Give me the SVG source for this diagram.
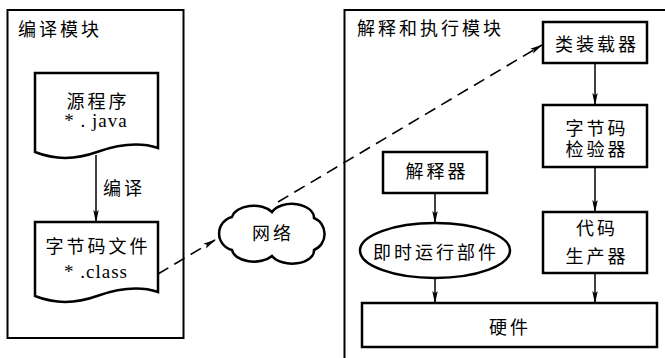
<svg xmlns="http://www.w3.org/2000/svg" width="665" height="358" viewBox="0 0 665 358">
<defs>
<style>
.box{fill:#fff;stroke:#000;stroke-width:2.5}
.frame{fill:none;stroke:#000;stroke-width:2}
.t{font-family:"Liberation Serif","Noto Sans CJK SC",serif;font-size:18px;letter-spacing:3px;fill:#000}
.c{text-anchor:middle}
.lat{font-family:"Liberation Serif",serif;font-size:19px;letter-spacing:1px;fill:#000;text-anchor:middle}
.ar{fill:none;stroke:#000;stroke-width:1.5;marker-end:url(#ah)}
.dash{fill:none;stroke:#000;stroke-width:1.6;stroke-dasharray:12 7;marker-end:url(#ah)}
</style>
<marker id="ah" markerUnits="userSpaceOnUse" viewBox="0 0 13 7" refX="12" refY="3.5" markerWidth="13" markerHeight="7" orient="auto">
<path d="M0,0.8 L13,3.5 L0,6.2 L2.5,3.5 Z" fill="#000"/>
</marker>
</defs>
<g id="compile-module">
<rect class="frame" x="7.5" y="10" width="176" height="328"/>
<text class="t" x="18" y="36">编译模块</text>
</g>
<g id="exec-module">
<path class="frame" d="M665,10 H344.5 V358"/>
<text class="t" x="357" y="35">解释和执行模块</text>
</g>
<g id="connectors">
<line class="ar" x1="96" y1="155" x2="96" y2="222"/>
<line class="dash" x1="158" y1="274" x2="215" y2="240"/>
<line class="dash" x1="278" y1="202" x2="542" y2="45"/>
<line class="ar" x1="595" y1="63" x2="595" y2="105"/>
<line class="ar" x1="595" y1="167" x2="595" y2="212"/>
<line class="ar" x1="595" y1="273" x2="595" y2="303"/>
<line class="ar" x1="435" y1="193" x2="435" y2="223"/>
<line class="ar" x1="435" y1="278" x2="435" y2="303"/>
<text class="t" x="103" y="195">编译</text>
</g>
<g id="source">
<path class="box" d="M35,73 H158 V148 C140,142 120,144 97,152 C75,160 55,160 35,152 Z"/>
<text class="t c" x="98" y="108">源程序</text>
<text class="lat" x="96" y="127">* . java</text>
</g>
<g id="bytecode">
<path class="box" d="M35,222 H158 V292 C140,286 120,288 97,296 C75,304 55,304 35,296 Z"/>
<text class="t c" x="98" y="253">字节码文件</text>
<text class="lat" x="96" y="278">* .class</text>
</g>
<g id="network">
<path class="box" d="M232,250 A17 17 0 0 1 232,217 A22 14 0 0 1 272,212 A22 14 0 0 1 314,218 A16 17 0 0 1 314,250 A22 13 0 0 1 272,256 A22 13 0 0 1 232,250 Z"/>
<text class="t c" x="273" y="240">网络</text>
</g>
<g id="classloader">
<rect class="box" x="543" y="22" width="104" height="41"/>
<text class="t c" x="597" y="51">类装载器</text>
</g>
<g id="verifier">
<rect class="box" x="543" y="105" width="104" height="62"/>
<text class="t c" x="597" y="135">字节码</text>
<text class="t c" x="597" y="156">检验器</text>
</g>
<g id="codegen">
<rect class="box" x="543" y="212" width="104" height="61"/>
<text class="t c" x="597" y="235">代码</text>
<text class="t c" x="597" y="263">生产器</text>
</g>
<g id="interpreter">
<rect class="box" x="383" y="152" width="104" height="41"/>
<text class="t c" x="437" y="178">解释器</text>
</g>
<g id="jit">
<ellipse class="box" cx="435" cy="250.5" rx="75" ry="27.5"/>
<text class="t c" x="436" y="259">即时运行部件</text>
</g>
<g id="hardware">
<rect class="box" x="362" y="303" width="295" height="44"/>
<text class="t c" x="510" y="334">硬件</text>
</g>
</svg>
